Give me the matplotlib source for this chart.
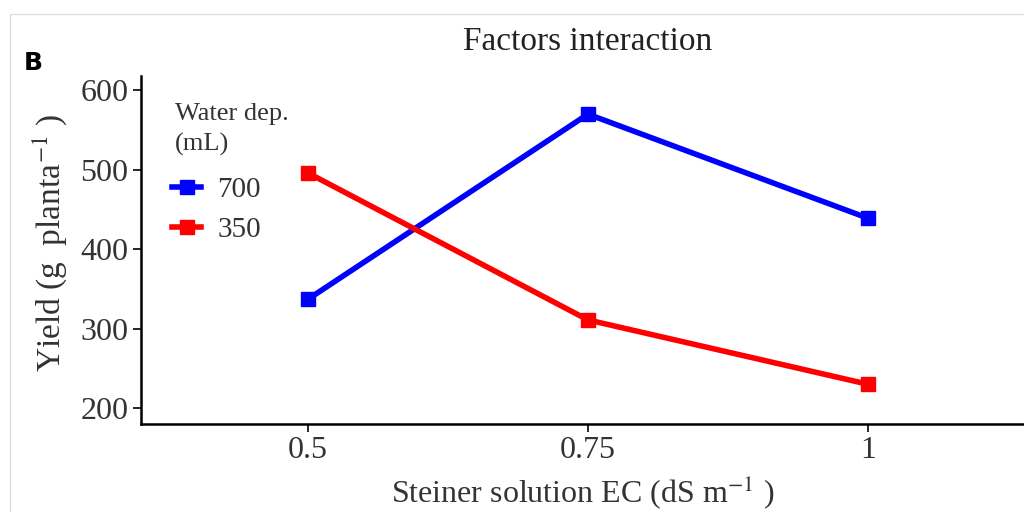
import matplotlib.pyplot as plt
from matplotlib.patches import Rectangle

plt.rcParams['font.family'] = ['Liberation Serif', 'DejaVu Serif']
plt.rcParams['mathtext.fontset'] = 'stix'

ec_levels = ['0.5', '0.75', '1']
water_700 = [337, 570, 439]
water_350 = [496, 311, 230]

fig = plt.figure(figsize=(10.24, 5.12), dpi=100)

# light panel border
fig.patches.append(Rectangle((10 / 1024, -0.1), 1.2, 0.1 + 1 - 14 / 512,
                             transform=fig.transFigure, fill=False,
                             edgecolor='#dddddd', linewidth=1))

ax = fig.add_axes([141 / 1024, 88 / 512, 1 - 141 / 1024, 348 / 512])
x = range(1, len(ec_levels) + 1)
ax.plot(x, water_700, color='#0000ff', lw=4, marker='s', ms=10, label='700')
ax.plot(x, water_350, color='#ff0000', lw=4, marker='s', ms=10, label='350')

ax.set_xlim(0.404, 3.557)
ax.set_ylim(180, 618)
ax.set_xticks(list(x))
ax.set_xticklabels(ec_levels)
ax.set_yticks([200, 300, 400, 500, 600])
ax.tick_params(labelsize=23, length=6, width=1.2, pad=3, colors='black',
               labelcolor='#333333')
for side in ['top', 'right']:
    ax.spines[side].set_visible(False)
for side in ['left', 'bottom']:
    ax.spines[side].set_linewidth(1.8)

ax.set_xlabel('Steiner solution EC (dS m$^{-1}$ )', fontsize=23, color='#333333',
              va='center')
ax.set_ylabel('Yield (g  planta$^{-1}$ )', fontsize=24, color='#333333',
              va='center')
ax.xaxis.set_label_coords(0.5, -0.195)
ax.yaxis.set_label_coords(-0.103, 0.52)

fig.text(588 / 1024, 1 - 42 / 512, 'Factors interaction', fontsize=24,
         ha='center', va='center', color='#222222')
fig.text(24 / 1024, 1 - 63 / 512, 'B', fontsize=18, fontweight='bold',
         family='DejaVu Sans', va='center', ha='left')

# legend title drawn separately to control spacing
fig.text(175 / 1024, 1 - 103 / 512, 'Water dep.\n(mL)', fontsize=19,
         ha='left', va='top', linespacing=1.42, color='#333333')
leg = ax.legend(loc='upper left',
                bbox_to_anchor=(172 / 1024, 1 - 177 / 512),
                bbox_transform=fig.transFigure, frameon=False,
                fontsize=21, handlelength=1.0, borderpad=0,
                handletextpad=0.55, labelspacing=0.45, borderaxespad=0)
for t in leg.get_texts():
    t.set_color('#333333')

fig.savefig('out.png', dpi=100)
